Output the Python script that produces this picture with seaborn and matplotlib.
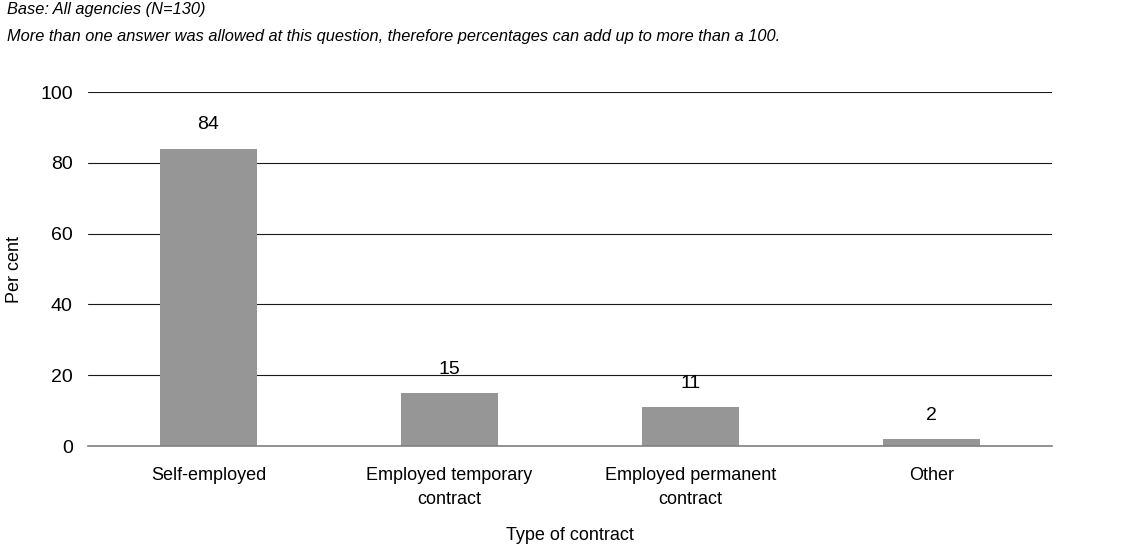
import matplotlib.pyplot as plt
import pandas as pd
import seaborn as sns

categories = ['Self-employed', 'Employed temporary\ncontract',
              'Employed permanent\ncontract', 'Other']
values = [84, 15, 11, 2]
y_ticks = [0, 20, 40, 60, 80, 100]

sns.set_style('white')
plt.rcParams['font.family'] = ['Liberation Sans', 'DejaVu Sans']
plt.rcParams['text.color'] = 'black'
plt.rcParams['axes.labelcolor'] = 'black'

df = pd.DataFrame({'Type': categories, 'Percent': values})

fig = plt.figure(figsize=(11.48, 5.47), dpi=100)
ax = fig.add_axes([0.0767, 0.1846, 0.8397, 0.6472])

sns.barplot(data=df, x='Type', y='Percent', color='#969696', width=0.4,
            saturation=1, linewidth=0, ax=ax, zorder=3)

ax.set_ylim(0, 100)
ax.set_xlim(-0.5, len(categories) - 0.5)
ax.set_yticks(y_ticks)
ax.yaxis.grid(True, color='#1a1a1a', linewidth=0.8, zorder=0)
ax.set_axisbelow(True)
ax.tick_params(axis='both', length=0, colors='#000000')
ax.tick_params(axis='x', pad=15, labelsize=13)
ax.tick_params(axis='y', pad=11, labelsize=14)
for lbl in ax.get_xticklabels():
    lbl.set_linespacing(1.55)

# value labels above the bars
for p, v in zip(ax.patches, values):
    ax.annotate(str(v), (p.get_x() + p.get_width() / 2, p.get_height()),
                xytext=(0, 11), textcoords='offset points',
                ha='center', va='bottom', fontsize=14, color='black')

for s in ['top', 'right', 'left']:
    ax.spines[s].set_visible(False)
ax.spines['bottom'].set_color('#808080')
ax.spines['bottom'].set_linewidth(1.2)
ax.spines['bottom'].set_zorder(4)

ax.set_xlabel('Type of contract', fontsize=13)
ax.set_ylabel('Per cent', fontsize=13)
ax.xaxis.set_label_coords(0.5, -0.228)
ax.yaxis.set_label_coords(-0.067, 0.5)

fig.text(0.006, 0.982, 'Base: All agencies (N=130)', fontsize=11.8,
         style='italic', va='center')
fig.text(0.006, 0.934, 'More than one answer was allowed at this question, '
         'therefore percentages can add up to more than a 100.',
         fontsize=11.8, style='italic', va='center')

plt.savefig('out.png', dpi=100)
plt.close()
